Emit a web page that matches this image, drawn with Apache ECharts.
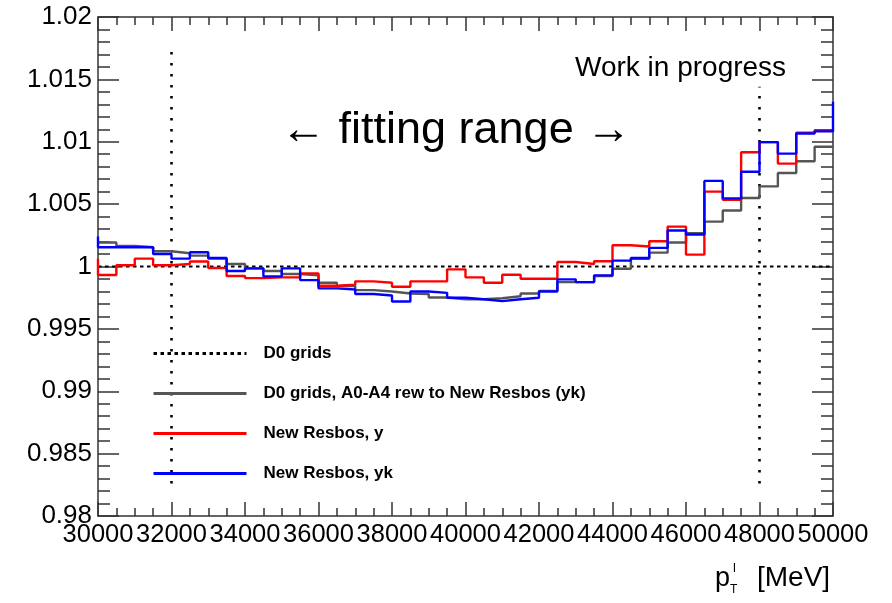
<!DOCTYPE html>
<html>
<head>
<meta charset="utf-8">
<script src="https://cdn.jsdelivr.net/npm/echarts@6/dist/echarts.min.js"></script>
<style>
html,body{margin:0;padding:0;background:#fff;}
#c{width:892px;height:603px;}
</style>
</head>
<body>
<div id="c"></div>
<script>
// ---- data ----
const xMin = 30000, xMax = 50000, binWidth = 500;
const fittingRange = [32000, 48000];
const fittingLineLow = [0.9826, 0.9826];
const fittingLineHigh = [1.0178, 1.0144];
const d0Level = 1.0;

const grayVals = [1.00192,1.00165,1.00154,1.00122,1.00106,1.00087,1.00063,1.0002,0.99985,0.99964,
  0.9994,0.9993,0.9987,0.99843,0.99811,0.998,0.99784,0.99779,0.99752,0.99738,
  0.99738,0.99746,0.99762,0.99784,0.99805,0.99875,0.99875,0.99924,0.99982,1.00062,
  1.00111,1.00192,1.00267,1.0036,1.00449,1.00549,1.00642,1.0075,1.00844,1.0096];
const redVals = [0.99932,1.0001,1.00063,1.0001,1.0002,1.0004,0.99988,0.99924,0.99907,0.99913,
  0.99913,0.99945,0.99846,0.99854,0.99881,0.9987,0.99838,0.99881,0.99881,0.99977,
  0.99913,0.9987,0.99934,0.99902,0.99902,1.00036,1.0002,1.00042,1.0017,1.0016,
  1.00203,1.0032,1.00095,1.006,1.00535,1.00916,1.00997,1.00825,1.01072,1.01093];
const blueVals = [1.00154,1.00154,1.00154,1.001,1.00063,1.00114,1.00068,0.99964,0.99985,0.99921,
  0.99985,0.99891,0.99825,0.99816,0.99779,0.99768,0.9972,0.998,0.99789,0.99749,
  0.99738,0.99722,0.99738,0.99749,0.998,0.99897,0.99875,0.99929,1.00047,1.00068,
  1.00149,1.00288,1.00256,1.00686,1.00546,1.0076,1.00997,1.00905,1.01066,1.01083];
const redPrev = 1.00063, bluePrev = 1.0024, blueNext = 1.0132;

const names = ['D0 grids','D0 grids, A0-A4 rew to New Resbos (yk)','New Resbos, y','New Resbos, yk'];

function stepData(vals, prev, next){
  const pts = [];
  if (prev != null) pts.push([xMin, prev]);
  vals.forEach((v,i)=>pts.push([xMin + i*binWidth, v]));
  pts.push([xMax, vals[vals.length-1]]);
  if (next != null) pts.push([xMax, next]);
  return pts;
}

const chart = echarts.init(document.getElementById('c'), null, {renderer:'canvas'});
const axisCol = '#333';
const labelFont = 'Liberation Sans, Arial, sans-serif';
const grid = {left:98, right:59, top:17, bottom:87};

function xAx(pos, showLabel){
  return {type:'value', position:pos, min:xMin, max:xMax, interval:2000,
    axisLine:{show:true, onZero:false, lineStyle:{color:axisCol, width:1.5}},
    axisTick:{show:true, inside:true, length:14, lineStyle:{color:axisCol, width:1.5}},
    minorTick:{show:true, splitNumber:4, length:8, lineStyle:{color:axisCol, width:1.5}},
    splitLine:{show:false},
    axisLabel:{show:showLabel, interval:0, margin:6, color:'#000', fontSize:25.5, showMinLabel:true, showMaxLabel:true,
      hideOverlap:false, fontFamily:labelFont, formatter: v => String(Math.round(v))}};
}
function yAx(pos, showLabel){
  return {type:'value', position:pos, min:0.98, max:1.02, interval:0.005,
    axisLine:{show:true, onZero:false, lineStyle:{color:axisCol, width:1.5}},
    axisTick:{show:true, inside:true, length:21, lineStyle:{color:axisCol, width:1.5}},
    minorTick:{show:true, splitNumber:5, length:12, lineStyle:{color:axisCol, width:1.5}},
    splitLine:{show:false},
    axisLabel:{show:showLabel, interval:0, margin:6, color:'#000', fontSize:26, fontFamily:labelFont,
      showMinLabel:true, showMaxLabel:true, hideOverlap:false,
      formatter: v => String(parseFloat(v.toFixed(4)))}};
}

const option = {
  animation:false,
  backgroundColor:'#fff',
  grid: grid,
  xAxis:[xAx('bottom', true), xAx('top', false)],
  yAxis:[yAx('left', true), yAx('right', false)],
  legend:{
    data:names, orient:'vertical', left:152, top:345, padding:0, itemWidth:93, itemHeight:14, itemGap:23,
    itemStyle:{opacity:0, borderWidth:0},
    lineStyle:{width:3},
    textStyle:{fontSize:17, fontWeight:'bold', color:'#000', fontFamily:labelFont, padding:[0,0,0,12]}
  },
  series:[
    {name:names[0], type:'line', data:[[xMin,d0Level],[xMax,d0Level]], symbol:'none', z:2,
      lineStyle:{color:'#000', width:2, type:[3.5,3.5]}, itemStyle:{color:'#000'}},
    {name:'fitLow', type:'line', data:[[fittingRange[0],fittingLineLow[0]],[fittingRange[0],fittingLineHigh[0]]],
      symbol:'none', silent:true, z:1, lineStyle:{color:'#000', width:2.6, type:[2.5,8.5]}},
    {name:'fitHigh', type:'line', data:[[fittingRange[1],fittingLineLow[1]],[fittingRange[1],fittingLineHigh[1]]],
      symbol:'none', silent:true, z:1, lineStyle:{color:'#000', width:2.6, type:[2.5,8.5]}},
    {name:names[1], type:'line', step:'end', data:stepData(grayVals), symbol:'none', z:3,
      lineStyle:{color:'#555', width:2.4}, itemStyle:{color:'#555'}},
    {name:names[2], type:'line', step:'end', data:stepData(redVals, redPrev), symbol:'none', z:4,
      lineStyle:{color:'#ff0000', width:2.4}, itemStyle:{color:'#ff0000'}},
    {name:names[3], type:'line', step:'end', data:stepData(blueVals, bluePrev, blueNext), symbol:'none', z:5,
      lineStyle:{color:'#0000ff', width:2.4}, itemStyle:{color:'#0000ff'}}
  ],
  graphic:[
    {type:'text', left:575, top:54, style:{text:'Work in progress', fontSize:28, fill:'#000', fontFamily:labelFont}},
    {type:'text', left:281, top:108, style:{text:'\u2190 fitting range \u2192', fontSize:45, fill:'#000', fontFamily:labelFont}},
    {type:'text', left:715, top:565, style:{text:'p', fontSize:27, fill:'#000', fontFamily:labelFont}},
    {type:'text', left:733, top:562, style:{text:'l', fontSize:13, fill:'#000', fontFamily:labelFont}},
    {type:'text', left:730, top:584, style:{text:'T', fontSize:12, fill:'#000', fontFamily:labelFont}},
    {type:'text', left:757, top:564, style:{text:'[MeV]', fontSize:28, fill:'#000', fontFamily:labelFont}}
  ]
};
chart.setOption(option);
</script>
</body>
</html>
